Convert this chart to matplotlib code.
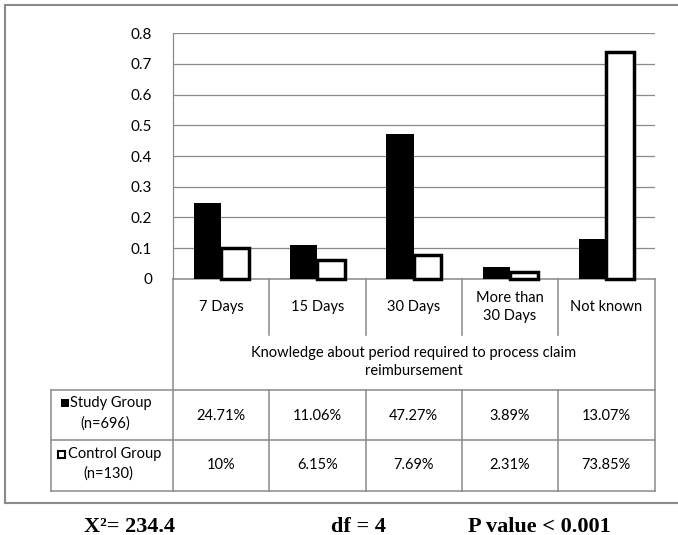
import numpy as np
import matplotlib
matplotlib.use('Agg')
import matplotlib.pyplot as plt
from matplotlib.patches import Rectangle

categories = ['7 Days', '15 Days', '30 Days', 'More than\n30 Days', 'Not known']
study_pct = [24.71, 11.06, 47.27, 3.89, 13.07]
control_pct = [10, 6.15, 7.69, 2.31, 73.85]
yticks = [0, 0.1, 0.2, 0.3, 0.4, 0.5, 0.6, 0.7, 0.8]
ytick_labels = ['0', '0.1', '0.2', '0.3', '0.4', '0.5', '0.6', '0.7', '0.8']
axis_title = 'Knowledge about period required to process claim\nreimbursement'
row_names = ['Study Group', 'Control Group']
row_sizes = ['(n=696)', '(n=130)']
stats = ['X\u00b2= 234.4', 'df = 4', 'P value < 0.001']

W, H = 678, 535
GRAY = '#8a8a8a'
plt.rcParams['font.family'] = ['Lato', 'DejaVu Sans']

fig = plt.figure(figsize=(W / 100, H / 100), dpi=100)

# full-figure overlay in pixel units for the frame and the data table
ov = fig.add_axes([0, 0, 1, 1])
ov.set_xlim(0, W)
ov.set_ylim(H, 0)
ov.axis('off')

left, right = 173, 654.5
top, base = 33.3, 278.7
ax = fig.add_axes([left / W, 1 - base / H, (right - left) / W, (base - top) / H])
ax.set_zorder(2)
ax.patch.set_visible(False)

x = np.arange(len(categories))
w = 0.286
study = np.array(study_pct) / 100
control = np.array(control_pct) / 100
ax.bar(x - w / 2, study, w, color='black', linewidth=0, clip_on=False, zorder=3)
ax.bar(x + w / 2, control, w, facecolor='white', edgecolor='black',
       linewidth=2.5, clip_on=False, zorder=3)
ax.set_xlim(-0.5, len(categories) - 0.5)
ax.set_ylim(0, 0.8)
ax.set_yticks(yticks)
ax.set_yticklabels(ytick_labels, fontsize=11)
ax.set_xticks([])
ax.grid(axis='y', color=GRAY, linewidth=0.9)
ax.set_axisbelow(True)
for side in ['top', 'right', 'bottom']:
    ax.spines[side].set_visible(False)
ax.spines['left'].set_color(GRAY)
ax.spines['left'].set_linewidth(0.9)
ax.tick_params(axis='y', length=0, pad=15)

# outer frame (right side runs off the page)
ov.plot([5, 5, 700], [503, 5, 5], color=GRAY, lw=1.5, solid_joinstyle='miter')
ov.plot([5, 700], [503, 503], color=GRAY, lw=1.5)

# data table
edges = np.linspace(left, right, len(categories) + 1)
centers = (edges[:-1] + edges[1:]) / 2
cat_bot, title_bot, row1_bot, row2_bot = 335, 390, 440, 491
tbl_left = 51
lw = 1.1
ov.plot([left, right], [base, base], color=GRAY, lw=lw)
for e in edges[1:-1]:
    ov.plot([e, e], [base, cat_bot], color=GRAY, lw=lw)
    ov.plot([e, e], [title_bot, row2_bot], color=GRAY, lw=lw)
ov.plot([left, left], [base, row2_bot], color=GRAY, lw=lw)
ov.plot([right, right], [base, row2_bot], color=GRAY, lw=lw)
ov.plot([tbl_left, tbl_left], [title_bot, row2_bot], color=GRAY, lw=lw)
for yy in [title_bot, row1_bot, row2_bot]:
    ov.plot([tbl_left, right], [yy, yy], color=GRAY, lw=lw)

fs = 10.5
for cx, lab in zip(centers, categories):
    ov.text(cx, 307, lab, ha='center', va='center', fontsize=fs, linespacing=1.45)
ov.text((left + right) / 2, 362, axis_title, ha='center', va='center',
        fontsize=fs, linespacing=1.45)

for cx, s, c in zip(centers, study_pct, control_pct):
    ov.text(cx, 416, f'{s:g}%', ha='center', va='center', fontsize=fs)
    ov.text(cx, 465, f'{c:g}%', ha='center', va='center', fontsize=fs)

# row headers with legend keys
ov.add_patch(Rectangle((61, 399), 7.5, 7.5, facecolor='black', edgecolor='none'))
ov.text(70, 403, row_names[0], ha='left', va='center', fontsize=fs)
ov.text(105, 424, row_sizes[0], ha='center', va='center', fontsize=fs)
ov.add_patch(Rectangle((58, 450.5), 7, 7, facecolor='white', edgecolor='black', lw=1.5))
ov.text(68, 454, row_names[1], ha='left', va='center', fontsize=fs)
ov.text(108, 474, row_sizes[1], ha='center', va='center', fontsize=fs)

# test statistics under the frame
for sx, txt in zip([84, 331, 468], stats):
    ov.text(sx, 531.5, txt, ha='left', va='baseline', fontsize=16,
            family='Liberation Serif', fontweight='bold')

fig.savefig('out.png', dpi=100)
